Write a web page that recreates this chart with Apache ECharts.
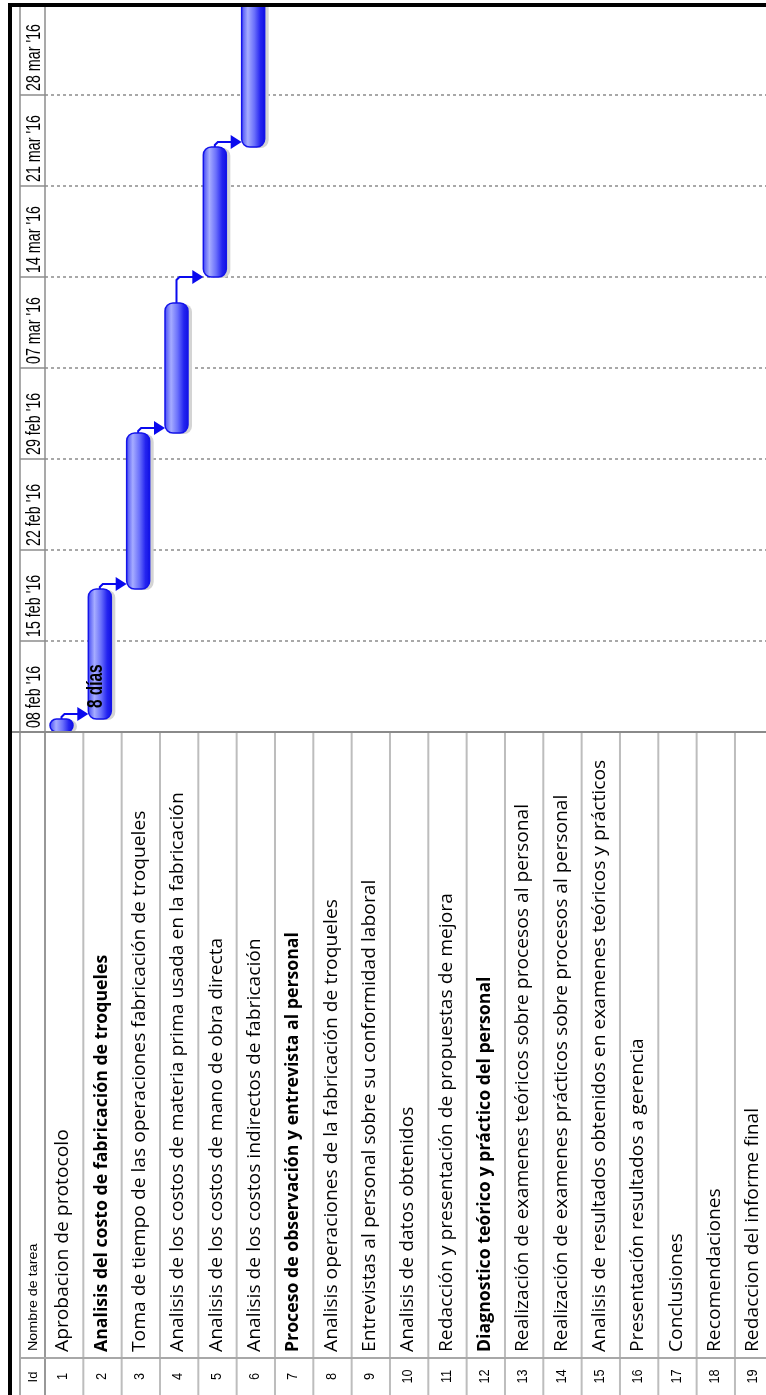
<!DOCTYPE html>
<html>
<head>
<meta charset="utf-8">
<script src="https://cdn.jsdelivr.net/npm/echarts@6.0.0/dist/echarts.min.js"></script>
<style>
html, body { margin: 0; padding: 0; background: #fff; }
#gantt { width: 766px; height: 1395px; }
</style>
</head>
<body>
<div id="gantt"></div>
<script>
// filas de la tabla (en la imagen girada van de izquierda a derecha)
const taskIds = ['1', '2', '3', '4', '5', '6', '7', '8', '9', '10', '11', '12', '13', '14', '15', '16', '17', '18', '19'];
const taskNames = [
  'Aprobacion de protocolo',
  'Analisis del costo de fabricación de troqueles',
  'Toma de tiempo de las operaciones fabricación de troqueles',
  'Analisis de los costos de materia prima usada en la fabricación',
  'Analisis de los costos de mano de obra directa',
  'Analisis de los costos indirectos de fabricación',
  'Proceso de observación y entrevista al personal',
  'Analisis operaciones de la fabricación de troqueles',
  'Entrevistas al personal sobre su conformidad laboral',
  'Analisis de datos obtenidos',
  'Redacción y presentación de propuestas de mejora',
  'Diagnostico teórico y práctico del personal',
  'Realización de examenes teóricos sobre procesos al personal',
  'Realización de examenes prácticos sobre procesos al personal',
  'Analisis de resultados obtenidos en examenes teóricos y prácticos',
  'Presentación resultados a gerencia',
  'Conclusiones',
  'Recomendaciones',
  'Redaccion del informe final'
];
const summaryRows = [2, 7, 12];

// barras: fila y dias desde el 08 feb '16
const barRows = [1, 2, 3, 4, 5, 6];
const barStart = [0, 1, 11, 23, 35, 45];
const barEnd = [1, 11, 23, 33, 45, 60];
const barLabels = ['', '8 días', '', '', '', ''];

// vinculos fin-comienzo
const linkFrom = [1, 2, 3, 4, 5];
const linkTo = [2, 3, 4, 5, 6];

// escala temporal
const weekStart = [0, 7, 14, 21, 28, 35, 42, 49];
const weekLabels = ["08 feb '16", "15 feb '16", "22 feb '16", "29 feb '16", "07 mar '16", "14 mar '16", "21 mar '16", "28 mar '16"];
const dayMax = 56;

const ID_TOP = 1358;
const HEAD_L = 20;
const HEAD_R = 45;
const BAR_W = 23;
const ROT = Math.PI / 2;

let chart = echarts.init(document.getElementById('gantt'));

function barFill () {
  return new echarts.graphic.LinearGradient(0, 0, 1, 0, [
    {offset: 0, color: '#3c42f2'},
    {offset: 0.28, color: '#a6acff'},
    {offset: 0.55, color: '#6a70fb'},
    {offset: 0.8, color: '#2424f0'},
    {offset: 1, color: '#1010e2'}
  ]);
}

function renderTable (params, api) {
  const i = api.value(0);
  const c = api.coord([i, 0]);
  const w = api.size([1, 0])[0];
  const left = c[0] - w / 2;
  const H = api.getHeight();
  const bold = summaryRows.indexOf(i + 1) >= 0;
  return {
    type: 'group',
    children: [
      {type: 'line', shape: {x1: left, y1: c[1], x2: left, y2: H}, style: {stroke: '#bdbdbd', lineWidth: 2}},
      {
        type: 'text', x: c[0] - 1, y: (ID_TOP + H) / 2, rotation: ROT, scaleX: 0.85,
        style: {text: taskIds[i], align: 'center', verticalAlign: 'middle', font: '15px "Liberation Sans"', fill: '#000'}
      },
      {
        type: 'text', x: c[0] - 1, y: ID_TOP - 6, rotation: ROT, scaleX: bold ? 0.956 : 1.04,
        style: {text: taskNames[i], align: 'left', verticalAlign: 'middle', font: (bold ? 'bold ' : '') + '18.5px "Open Sans"', fill: '#000'}
      }
    ]
  };
}

function renderWeeks (params, api) {
  const d = api.value(1);
  const yb = api.coord([0, d])[1];
  const yt = api.coord([0, d + 7])[1];
  return {
    type: 'group',
    children: [
      {type: 'line', shape: {x1: HEAD_L, y1: yt, x2: HEAD_R, y2: yt}, style: {stroke: '#8c8c8c', lineWidth: 1.5}},
      {
        type: 'text', x: 34, y: yb - 4, rotation: ROT, scaleX: 0.68,
        style: {text: weekLabels[params.dataIndex], align: 'left', verticalAlign: 'middle', font: '21px "Liberation Sans"', fill: '#000'}
      }
    ]
  };
}

function renderBar (params, api) {
  const row = api.value(0);
  const s = api.coord([row, api.value(1)]);
  const e = api.coord([row, api.value(2)]);
  const w = api.size([1, 0])[0];
  const left = s[0] - w / 2 + 5;
  const h = s[1] - e[1];
  const r = Math.min(8, h / 2);
  const children = [
    {type: 'rect', shape: {x: left + 4, y: e[1] + 1, width: BAR_W, height: h, r: r}, style: {fill: '#d4d4d4'}},
    {type: 'rect', shape: {x: left, y: e[1], width: BAR_W, height: h, r: r}, style: {fill: barFill(), stroke: '#1414ea', lineWidth: 1.5}}
  ];
  const label = barLabels[params.dataIndex];
  if (label) {
    children.push({
      type: 'text', x: left + 8, y: s[1] - 11, rotation: ROT, scaleX: 0.7,
      style: {text: label, align: 'left', verticalAlign: 'middle', font: 'bold 22px "Liberation Sans"', fill: '#000'}
    });
  }
  return {type: 'group', children: children};
}

function renderLink (params, api) {
  const pEnd = api.coord([api.value(0), api.value(1)]);
  const pStart = api.coord([api.value(2), api.value(3)]);
  const w = api.size([1, 0])[0];
  const xFrom = pEnd[0] - w / 2 + 5 + BAR_W / 2;
  const tipX = pStart[0] - w / 2 + 5;
  const y = Math.min(pEnd[1] - 5, pStart[1]);
  return {
    type: 'group',
    children: [
      {
        type: 'polyline',
        shape: {points: [[xFrom, pEnd[1]], [xFrom, y + 3], [xFrom + 3, y], [tipX - 9, y]]},
        style: {stroke: '#0a0aee', lineWidth: 2, fill: null}
      },
      {
        type: 'polygon',
        shape: {points: [[tipX - 11, y - 7], [tipX, y], [tipX - 11, y + 7]]},
        style: {fill: '#0a0aee'}
      }
    ]
  };
}

const tableData = taskIds.map((id, i) => [i, 0]);
const weekData = weekStart.map(d => [0, d]);
const barData = barRows.map((r, k) => [r - 1, barStart[k], barEnd[k]]);
const linkData = linkFrom.map((f, k) => {
  const a = barRows.indexOf(f);
  const b = barRows.indexOf(linkTo[k]);
  return [f - 1, barEnd[a], linkTo[k] - 1, barStart[b]];
});

chart.setOption({
  animation: false,
  backgroundColor: '#fff',
  grid: {left: 45, right: -7.3, top: 4, bottom: 663, outerBoundsMode: 'none'},
  xAxis: {
    type: 'category',
    data: taskIds,
    boundaryGap: true,
    axisLine: {show: false},
    axisTick: {show: false},
    axisLabel: {show: false},
    splitLine: {show: false}
  },
  yAxis: {
    type: 'value',
    min: 0,
    max: dayMax,
    interval: 7,
    axisLine: {show: false},
    axisTick: {show: false},
    axisLabel: {show: false},
    splitLine: {show: true, lineStyle: {color: '#a8a8a8', width: 2, type: [3, 3]}}
  },
  graphic: [
    {type: 'line', z: 50, shape: {x1: HEAD_L, y1: 6, x2: HEAD_L, y2: 1395}, style: {stroke: '#8c8c8c', lineWidth: 1.5}},
    {type: 'line', z: 50, shape: {x1: HEAD_R, y1: 6, x2: HEAD_R, y2: 1395}, style: {stroke: '#8c8c8c', lineWidth: 1.5}},
    {type: 'line', z: 50, shape: {x1: 12, y1: 732, x2: 766, y2: 732}, style: {stroke: '#8a8a8a', lineWidth: 2}},
    {type: 'line', z: 50, shape: {x1: HEAD_L, y1: ID_TOP, x2: 766, y2: ID_TOP}, style: {stroke: '#a8a8a8', lineWidth: 2}},
    {
      type: 'text', z: 50, x: 33, y: 1377, rotation: ROT,
      style: {text: 'Id', align: 'center', verticalAlign: 'middle', font: '13px "Liberation Sans"', fill: '#000'}
    },
    {
      type: 'text', z: 50, x: 33, y: 1351, rotation: ROT, scaleX: 1.06,
      style: {text: 'Nombre de tarea', align: 'left', verticalAlign: 'middle', font: '13.5px "Liberation Sans"', fill: '#000'}
    },
    {type: 'rect', z: 60, shape: {x: 8, y: 3, width: 4, height: 1392}, style: {fill: '#000'}},
    {type: 'rect', z: 60, shape: {x: 8, y: 3, width: 758, height: 4}, style: {fill: '#000'}}
  ],
  series: [
    {type: 'custom', name: 'tabla', renderItem: renderTable, data: tableData, clip: false, silent: true},
    {type: 'custom', name: 'semanas', renderItem: renderWeeks, data: weekData, clip: false, silent: true},
    {type: 'custom', name: 'vinculos', renderItem: renderLink, data: linkData, clip: false, silent: true, z: 3},
    {type: 'custom', name: 'tareas', renderItem: renderBar, data: barData, clip: true, z: 4}
  ]
});
</script>
</body>
</html>
